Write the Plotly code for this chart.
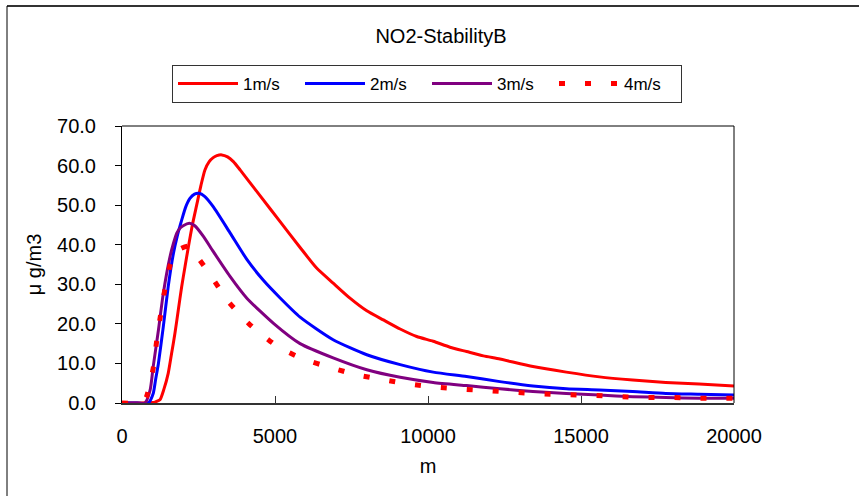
import plotly.graph_objects as go

# ---- data ----
x_1 = [0, 500, 1000, 1100, 1240, 1370, 1510, 1620, 1730, 1840, 1950, 2060, 2170, 2300, 2440, 2580, 2710,
       2850, 2980, 3100, 3260, 3450, 3640, 3860, 4130, 4510, 5160, 5820, 6360, 6900, 7450, 8000, 8540,
       9090, 9630, 10170, 10720, 11260, 11810, 12350, 13430, 14520, 15600, 16690, 17770, 18860, 20000]
y_1 = [0, 0, 0.1, 0.3, 0.8, 3.5, 7.5, 12.5, 17.6, 23.5, 29.4, 34.5, 39.5, 45.0, 50.0, 55.0, 58.9,
       61.0, 62.0, 62.5, 62.7, 62.2, 61.0, 58.9, 56.2, 52.4, 45.9, 39.3, 34.1, 30.3, 26.5, 23.3, 21.0,
       18.7, 16.8, 15.6, 14.1, 13.0, 11.9, 11.1, 9.2, 7.8, 6.6, 5.8, 5.2, 4.8, 4.3]

x_2 = [0, 500, 860, 1020, 1100, 1190, 1350, 1510, 1680, 1800, 1950, 2080, 2220, 2370, 2520, 2700, 2980,
       3530, 4080, 4620, 5160, 5820, 6900, 8000, 9090, 10170, 11260, 12350, 13430, 14520, 15600, 16690,
       17770, 18860, 20000]
y_2 = [0, 0, 0, 2.4, 6.0, 10.0, 19.3, 29.4, 37.8, 42.0, 46.2, 49.5, 51.7, 52.8, 53.0, 52.2, 49.6,
       43.0, 36.3, 31.0, 26.6, 21.7, 16.0, 12.2, 9.7, 7.8, 6.7, 5.4, 4.3, 3.6, 3.3, 2.9,
       2.4, 2.2, 2.0]

x_3 = [0, 500, 750, 920, 1020, 1190, 1350, 1570, 1680, 1790, 1900, 2000, 2200, 2380, 2660, 2980, 3530,
       4080, 4970, 5820, 6900, 8000, 9090, 10170, 11260, 12350, 13430, 14520, 15600, 16690, 17770,
       18860, 20000]
y_3 = [0, 0, 0, 3.3, 9.2, 18.4, 27.7, 37.0, 40.3, 42.9, 44.2, 44.8, 45.4, 44.8, 42.1, 38.3, 32.0,
       26.5, 20.0, 15.0, 11.4, 8.4, 6.5, 5.2, 4.4, 3.6, 2.9, 2.4, 2.0, 1.6, 1.4,
       1.2, 1.2]

x_4 = [0, 500, 700, 800, 1020, 1130, 1260, 1400, 1590, 1800, 2170, 2500, 2850, 3440, 4150, 5080, 5930,
       6800, 7680, 8540, 9400, 10260, 11110, 11980, 12810, 13700, 14570, 15420, 16280, 17150, 17990,
       18860, 19730, 20000]
y_4 = [0, 0, 0.5, 1.6, 8.8, 15.5, 22.2, 28.6, 35.3, 38.5, 39.6, 36.5, 32.8, 26.0, 20.0, 14.3, 11.1,
       9.0, 7.1, 5.9, 4.8, 4.0, 3.5, 3.1, 2.7, 2.3, 2.1, 1.9, 1.6, 1.4, 1.4,
       1.2, 1.2, 1.2]

names = ["1m/s", "2m/s", "3m/s", "4m/s"]
x_ticks = [0, 5000, 10000, 15000, 20000]
y_ticks = [0, 10, 20, 30, 40, 50, 60, 70]

FONT = "Liberation Sans, Arial, sans-serif"

fig = go.Figure()
fig.add_trace(go.Scatter(x=x_1, y=y_1, name=names[0], mode="lines",
                         line=dict(color="#FF0000", width=3, shape="spline", smoothing=0.6)))
fig.add_trace(go.Scatter(x=x_2, y=y_2, name=names[1], mode="lines",
                         line=dict(color="#0000FF", width=3, shape="spline", smoothing=0.6)))
fig.add_trace(go.Scatter(x=x_3, y=y_3, name=names[2], mode="lines",
                         line=dict(color="#800080", width=3, shape="spline", smoothing=0.6)))
fig.add_trace(go.Scatter(x=x_4, y=y_4, name=names[3], mode="lines",
                         line=dict(color="#FF0000", width=5, dash="6px,20px", shape="spline", smoothing=0.6)))

L, R, T, B = 122, 859 - 734, 126, 496 - 403
W, H = 859, 496
pw, ph = W - L - R, H - T - B

def px(xpix):
    return (xpix - L) / pw

def py(ypix):
    return (H - B - ypix) / ph

fig.update_layout(
    width=W, height=H,
    margin=dict(l=L, r=R, t=T, b=B),
    paper_bgcolor="white", plot_bgcolor="white",
    font=dict(family=FONT, color="black", size=20),
    title=dict(text="NO2-StabilityB", x=441 / W, xanchor="center", y=1 - 36 / H, yanchor="middle",
               font=dict(family=FONT, size=20, color="black")),
    showlegend=True,
    legend=dict(orientation="h", x=172 / W, xref="container", xanchor="left",
                y=1 - 65 / H, yref="container", yanchor="top",
                bordercolor="#333333", borderwidth=1, bgcolor="white",
                font=dict(family=FONT, size=17, color="black"),
                itemwidth=60, entrywidth=52, entrywidthmode="pixels",
                tracegroupgap=0),
    xaxis=dict(range=[0, 20000], tickvals=x_ticks, ticktext=[str(v) for v in x_ticks],
               showgrid=False, zeroline=False, showline=True, linecolor="#333333", linewidth=2,
               ticks="inside", ticklen=7, tickcolor="#333333", tickwidth=1,
               tickfont=dict(family=FONT, size=20), ticklabelstandoff=14,
               title=dict(text="m", font=dict(family=FONT, size=20), standoff=13)),
    yaxis=dict(range=[0, 70], tickvals=y_ticks, tickformat=".1f",
               showgrid=False, zeroline=False, showline=True, linecolor="black", linewidth=1,
               ticks="outside", ticklen=6, tickcolor="black", tickwidth=1,
               tickfont=dict(family=FONT, size=20), ticklabelstandoff=15,
               title=dict(text="μ g/m3", font=dict(family=FONT, size=20), standoff=10)),
    shapes=[
        dict(type="line", xref="paper", yref="paper", x0=0, x1=1, y0=1, y1=1,
             line=dict(color="black", width=1)),
        dict(type="line", xref="paper", yref="paper", x0=1, x1=1, y0=0, y1=1,
             line=dict(color="black", width=1)),
        dict(type="line", xref="paper", yref="paper", x0=px(7), x1=px(W + 5), y0=py(6), y1=py(6),
             line=dict(color="#333333", width=2)),
        dict(type="line", xref="paper", yref="paper", x0=px(7), x1=px(7), y0=py(6), y1=py(H + 5),
             line=dict(color="black", width=1)),
    ],
)

fig.write_html("out.html")
